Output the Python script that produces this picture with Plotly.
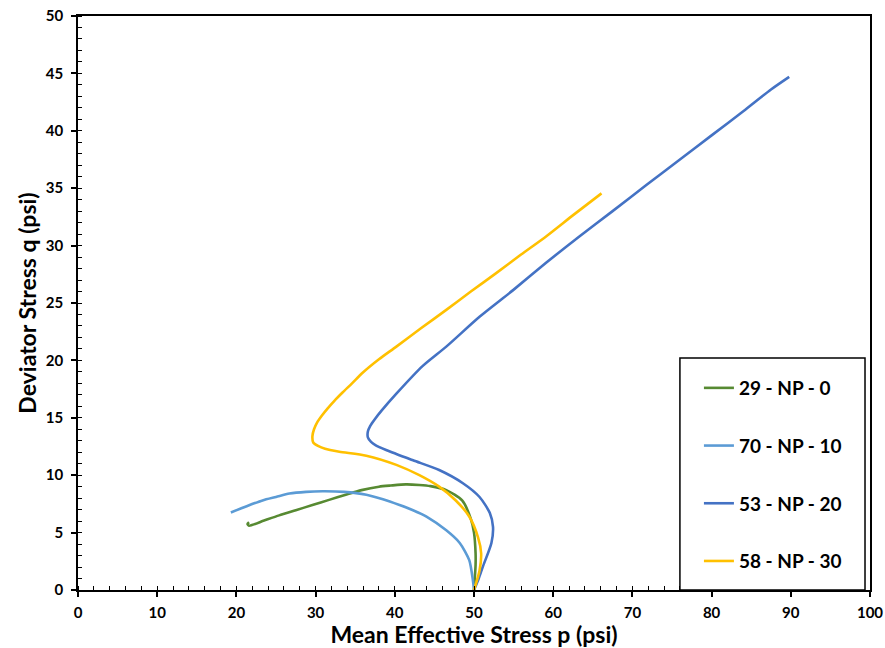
import plotly.graph_objects as go

# ---- data ----
names = ["29 - NP - 0", "70 - NP - 10", "53 - NP - 20", "58 - NP - 30"]
colors = ["#578a32", "#5b9bd5", "#4472c4", "#ffc000"]

p_np0 = [50.0, 50.1, 50.2, 50.2, 50.0, 49.6, 48.5, 46.5, 44.5, 43.1, 41.4, 39.5, 38.0, 35.8,
         33.8, 31.7, 29.6, 27.5, 25.4, 23.5, 21.6, 21.4, 21.6]
q_np0 = [0.0, 1.0, 2.2, 3.2, 5.0, 6.2, 7.8, 8.7, 9.05, 9.15, 9.2, 9.1, 9.0, 8.7,
         8.3, 7.85, 7.4, 6.95, 6.5, 6.05, 5.6, 5.75, 5.9]

p_np10 = [50.0, 49.85, 49.4, 48.2, 46.5, 44.0, 42.3, 40.6, 38.5, 36.4, 33.6, 30.9, 28.8,
          26.7, 25.0, 23.3, 21.3, 19.3]
q_np10 = [0.0, 0.9, 2.6, 4.1, 5.2, 6.4, 6.95, 7.4, 7.9, 8.3, 8.55, 8.6, 8.55,
          8.4, 8.1, 7.8, 7.3, 6.75]

p_np20 = [50.0, 50.6, 51.1, 52.2, 52.4, 52.0, 50.7, 48.6, 45.6, 42.3, 38.9, 37.6, 37.0, 36.6,
          36.6, 36.9, 37.5, 38.3, 40.2, 43.5, 46.5, 50.7, 54.9, 59.1, 63.3, 67.5, 71.8, 76.0,
          80.0, 84.0, 87.5, 89.8]
q_np20 = [0.0, 1.0, 2.0, 4.1, 5.5, 6.7, 8.1, 9.3, 10.45, 11.3, 12.2, 12.6, 12.9, 13.3,
          13.8, 14.3, 14.9, 15.6, 17.1, 19.5, 21.2, 23.8, 26.1, 28.5, 30.8, 33.0, 35.3, 37.5,
          39.6, 41.7, 43.6, 44.7]

p_np30 = [50.0, 50.7, 50.9, 50.5, 49.4, 47.7, 45.6, 43.1, 40.2, 36.4, 33.0, 31.2, 30.3, 29.7,
          29.6, 29.8, 30.2, 30.8, 31.5, 32.4, 33.4, 34.6, 35.9, 38.0, 40.2, 43.3, 46.5, 49.6,
          52.8, 55.9, 59.1, 62.6, 66.1]
q_np30 = [0.0, 1.7, 3.2, 4.6, 6.4, 7.8, 9.0, 10.0, 10.9, 11.7, 12.05, 12.3, 12.55, 12.85,
          13.4, 14.0, 14.6, 15.2, 15.8, 16.5, 17.2, 18.0, 18.9, 20.1, 21.2, 22.8, 24.4, 26.0,
          27.6, 29.2, 30.8, 32.7, 34.55]

x_ticks = [0, 10, 20, 30, 40, 50, 60, 70, 80, 90, 100]
y_ticks = [0, 5, 10, 15, 20, 25, 30, 35, 40, 45, 50]

series = [(p_np0, q_np0), (p_np10, q_np10), (p_np20, q_np20), (p_np30, q_np30)]

FONT = "Lato"
fig = go.Figure()
for i, ((px, qy), nm, c) in enumerate(zip(series, names, colors)):
    fig.add_trace(go.Scatter(
        x=px, y=qy, mode="lines", name=nm, legendgroup=str(i),
        line=dict(color=c, width=2.6, shape="spline", smoothing=0.7),
    ))

fig.update_layout(
    width=885, height=648,
    paper_bgcolor="white", plot_bgcolor="white",
    margin=dict(l=78, r=15, t=16, b=58),
    font=dict(family=FONT, color="black", size=15),
    showlegend=True,
)

fig.update_xaxes(
    range=[0, 100], tickmode="array", tickvals=x_ticks,
    ticktext=["<b>%d</b>" % v for v in x_ticks],
    tickfont_family=FONT, tickfont_size=15, tickfont_color="black",
    showgrid=False, zeroline=False, showline=True, linecolor="black", linewidth=1.5,
    mirror=True, ticks="outside", ticklen=5, tickwidth=1.5, tickcolor="black",
    automargin=False, ticklabelstandoff=3,
    minor=dict(dtick=2, ticks="inside", ticklen=4, tickwidth=1.3, tickcolor="black"),
    title_text="<b>Mean Effective Stress p (psi)</b>", title_standoff=0,
    title_font=dict(family=FONT, size=23, color="black"),
)
fig.update_yaxes(
    range=[0, 50], tickmode="array", tickvals=y_ticks,
    ticktext=["<b>%d</b>" % v for v in y_ticks],
    tickfont_family=FONT, tickfont_size=15, tickfont_color="black",
    showgrid=False, zeroline=False, showline=True, linecolor="black", linewidth=1.5,
    mirror=True, ticks="outside", ticklen=5, tickwidth=1.5, tickcolor="black",
    automargin=False, ticklabelstandoff=5,
    minor=dict(dtick=1, ticks="inside", ticklen=4, tickwidth=1.3, tickcolor="black"),
    title_text="<b>Deviator Stress q (psi)</b>", title_standoff=3,
    title_font=dict(family=FONT, size=23, color="black"),
)

fig.update_layout(
    legend=dict(
        x=0.784, y=0.385, xanchor="left", yanchor="top",
        bgcolor="rgba(0,0,0,0)", borderwidth=0,
        font=dict(family=FONT, size=19, color="black", weight="bold"),
        traceorder="grouped", tracegroupgap=30,
    ),
    shapes=[dict(type="rect", xref="paper", yref="paper", x0=0.760, x1=0.9937, y0=0.0, y1=0.404,
                 line=dict(color="black", width=1.5), fillcolor="white", layer="above")],
)

fig.write_html("out.html")
